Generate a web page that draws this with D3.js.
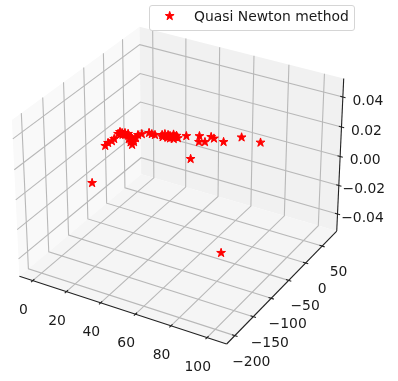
<!DOCTYPE html>
<html>
  <head>
    <meta charset="utf-8">
    <style>
      body { margin: 0; background: #fff; }
      svg { display: block; filter: blur(0.3px); }
      text { font-family: 'DejaVu Sans', sans-serif; font-size: 13.9px; fill: #1a1a1a; }
    </style>
  </head>
  <body>
    <div id="container"></div>
    <script src="https://d3js.org/d3.v7.min.js"></script>
    <script>

    var seriesName = "Quasi Newton method";
    var xValues = [15.6, 102.9, 46.0, 68.7, 57.6, 51.9, 43.7, 45.8, 43.6, 38.0, 40.9, 32.1, 29.4, 27.5, 26.2, 24.7, 23.3, 21.4, 20.6, 17.4, 15.5, 13.6, 11.0, 9.8, 10.6, 11.9, 12.6, 10.3, 7.8, 4.7, 2.8, 1.5, 0.0, 0.2, 1.3, 1.5, 0.8, 1.2, 24.5, 26.0, 25.5, 27.5, 22.0, 28.0, 1.5, 2.7, 4.0, 6.0, 8.0, 10.5];
    var yValues = [-134, -201, -12, 76, 76, 52, 56, 54, 39, 50, 35, 41, 30, 31, 29, 30, 31, 31, 27, 22, 22, 23, 15, 10, 1, -10, -18, -6, 0, 6, 6, 4, 5, -1, -16, -23, -30, -39, 24, 24, 36, 35, 22, 25, -1, 0, 2, 1, -6, -13];
    var zValues = xValues.map(function() { return 0; });

    var xTicks = [0, 20, 40, 60, 80, 100];
    var yTicks = [-200, -150, -100, -50, 0, 50];
    var zTicks = [-0.04, -0.02, 0.00, 0.02, 0.04];

    var xLim = [-8, 110.7], yLim = [-221.6, 95.7], zLim = [-0.0521, 0.0521];

    var width = 398, height = 381;

    // box is 4:4:3, same as mplot3d
    var boxX = 1.19, boxY = 1.19, boxZ = 0.893, dist = 10;
    var bx = d3.scaleLinear().domain(xLim).range([-boxX / 2, boxX / 2]);
    var by = d3.scaleLinear().domain(yLim).range([-boxY / 2, boxY / 2]);
    var bz = d3.scaleLinear().domain(zLim).range([-boxZ / 2, boxZ / 2]);

    var sx = d3.scaleLinear().domain([-0.1, 0.1]).range([181 - 199.5, 181 + 199.5]);
    var sy = d3.scaleLinear().domain([-0.1, 0.1]).range([177.8 + 199.5, 177.8 - 199.5]);

    // elev 30, azim -60
    var eu = [0.866, 0.5, 0], ev = [-0.25, 0.433, 0.866], ew = [0.433, -0.75, 0.5];
    function dot(a, b) { return a[0] * b[0] + a[1] * b[1] + a[2] * b[2]; }

    function project(x, y, z, dy, dx) {
      var q = [bx(x) + (dx || 0), by(y) + (dy || 0), bz(z)];
      var d = dist - dot(ew, q);
      return [sx(dot(eu, q) / d), sy(dot(ev, q) / d)];
    }

    var line = d3.line();

    var svg = d3.select("#container").append("svg")
      .attr("width", width).attr("height", height);

    var x0 = xLim[0], x1 = xLim[1], y0 = yLim[0], y1 = yLim[1], z0 = zLim[0], z1 = zLim[1];

    var panes = [
      {fill: "#f9f9f9", pts: [[x0, y0, z0], [x0, y1, z0], [x0, y1, z1], [x0, y0, z1]]},
      {fill: "#f1f1f1", pts: [[x0, y1, z0], [x1, y1, z0], [x1, y1, z1], [x0, y1, z1]]},
      {fill: "#f5f5f5", pts: [[x0, y0, z0], [x1, y0, z0], [x1, y1, z0], [x0, y1, z0]]}
    ];

    svg.append("g").selectAll("path").data(panes).enter().append("path")
      .attr("fill", function(d) { return d.fill; })
      .attr("d", function(d) { return line(d.pts.map(function(p) { return project(p[0], p[1], p[2]); })) + "Z"; });

    var grid = svg.append("g").attr("fill", "none").attr("stroke", "#b8b8b8").attr("stroke-width", 1.1);

    grid.selectAll(".gx").data(xTicks).enter().append("path")
      .attr("d", function(v) { return line([project(v, y0, z0), project(v, y1, z0), project(v, y1, z1)]); });
    grid.selectAll(".gy").data(yTicks).enter().append("path")
      .attr("d", function(v) { return line([project(x1, v, z0), project(x0, v, z0), project(x0, v, z1)]); });
    grid.selectAll(".gz").data(zTicks).enter().append("path")
      .attr("d", function(v) { return line([project(x0, y0, v), project(x0, y1, v), project(x1, y1, v)]); });

    var axes = svg.append("g").attr("fill", "none").attr("stroke", "#222").attr("stroke-width", 1.1);
    axes.append("path").attr("d", line([project(x0, y0, z0), project(x1, y0, z0)]));
    axes.append("path").attr("d", line([project(x1, y0, z0), project(x1, y1, z0)]));
    axes.append("path").attr("d", line([project(x1, y1, z0), project(x1, y1, z1)]));

    // tick marks
    var tickOut = 0.015, tickIn = 0.015;
    axes.selectAll(".tx").data(xTicks).enter().append("path")
      .attr("d", function(v) { return line([project(v, y0, z0, -tickOut), project(v, y0, z0, tickIn)]); });
    axes.selectAll(".ty").data(yTicks).enter().append("path")
      .attr("d", function(v) { return line([project(x1, v, z0, 0, tickOut), project(x1, v, z0, 0, -tickIn)]); });
    axes.selectAll(".tz").data(zTicks).enter().append("path")
      .attr("d", function(v) { return line([project(x1, y1, v, 0, tickOut), project(x1, y1, v, 0, -tickIn)]); });

    function fmt(v, digits) {
      return d3.format("." + digits + "f")(v);
    }

    var labels = svg.append("g").attr("text-anchor", "middle");

    labels.selectAll(".lx").data(xTicks).enter().append("text")
      .attr("x", function(v) { return project(v, y0, z0)[0] - 9.3; })
      .attr("y", function(v) { return project(v, y0, z0)[1] + 28.2; })
      .attr("dy", "0.36em")
      .text(function(v) { return fmt(v, 0); });

    labels.selectAll(".ly").data(yTicks).enter().append("text")
      .attr("x", function(v) { return project(x1, v, z0)[0] + 16.5; })
      .attr("y", function(v) { return project(x1, v, z0)[1] + 25; })
      .attr("dy", "0.36em")
      .text(function(v) { return fmt(v, 0); });

    labels.selectAll(".lz").data(zTicks).enter().append("text")
      .attr("x", function(v) { return project(x1, y1, v)[0] + 25; })
      .attr("y", function(v) { return project(x1, y1, v)[1] + 3; })
      .attr("dy", "0.36em")
      .text(function(v) { return fmt(v, 2); });

    var star = d3.symbol().type(d3.symbolStar).size(24);

    svg.append("g").selectAll("path").data(xValues).enter().append("path")
      .attr("d", star)
      .attr("fill", "#ff0000")
      .attr("stroke", "#ff0000")
      .attr("stroke-width", 1)
      .attr("transform", function(d, i) {
        var p = project(xValues[i], yValues[i], zValues[i]);
        return "translate(" + p[0] + "," + p[1] + ")";
      });

    // legend
    var legend = svg.append("g");
    legend.append("rect")
      .attr("x", 149.5).attr("y", 5.5).attr("width", 205).attr("height", 25).attr("rx", 2.5)
      .attr("fill", "#fff").attr("fill-opacity", 0.8).attr("stroke", "#d5d5d5").attr("stroke-width", 1);
    legend.append("path")
      .attr("d", star)
      .attr("fill", "#ff0000").attr("stroke", "#ff0000").attr("stroke-width", 1)
      .attr("transform", "translate(169.7,16)");
    legend.append("text")
      .attr("x", 194).attr("y", 16).attr("dy", "0.36em")
      .text(seriesName);

    </script>
  </body>
</html>
